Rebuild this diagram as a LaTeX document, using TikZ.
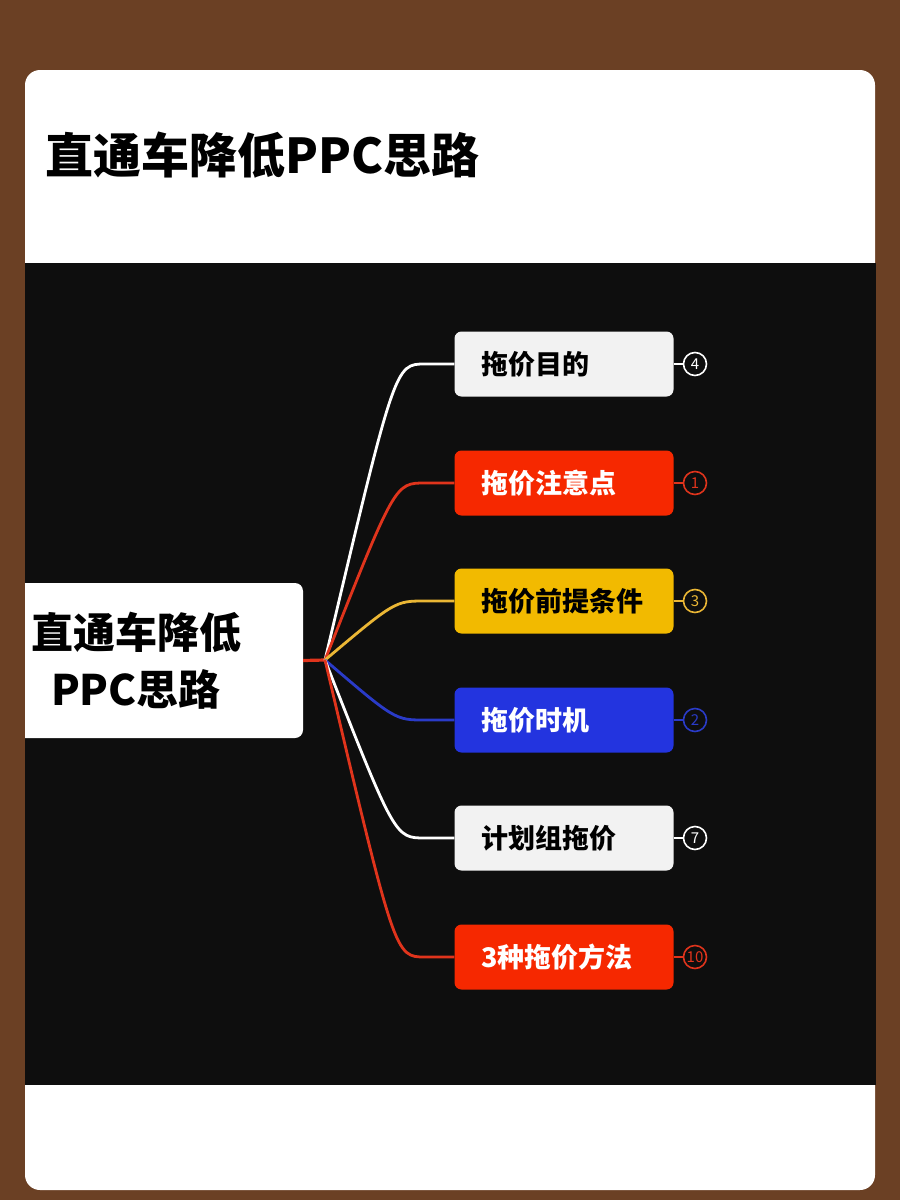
\documentclass[tikz,border=0pt]{standalone}
\usepackage{fontspec}
\newfontfamily\cjk{Noto Sans CJK SC}
\definecolor{brownbg}{HTML}{6B4024}
\definecolor{darkbg}{HTML}{0E0E0E}
\definecolor{boxwhite}{HTML}{F2F2F2}
\definecolor{boxred}{HTML}{F62800}
\definecolor{boxyellow}{HTML}{F2BA00}
\definecolor{boxblue}{HTML}{2334DF}
\definecolor{linered}{HTML}{E0341C}
\definecolor{lineyellow}{HTML}{EBB735}
\definecolor{lineblue}{HTML}{2A3BC8}
\tikzset{
  branch/.style={rectangle, rounded corners=7pt, minimum width=219pt, minimum height=65pt,
    inner xsep=27pt, inner ysep=0pt, text width=165pt, align=left,
    font=\cjk\bfseries\fontsize{27}{30}\selectfont},
  numc/.style={circle, line width=1.6pt, minimum size=23pt, inner sep=0pt,
    font=\cjk\fontsize{15}{16}\selectfont},
  conn/.style={line width=2.8pt},
}
\begin{document}
\begin{tikzpicture}[x=1pt,y=-1pt]
\useasboundingbox (0,0) rectangle (900,1200);
\fill[brownbg] (0,0) rectangle (900,1200);
\fill[white, rounded corners=15pt] (25,70) rectangle (875,1190);
\fill[darkbg] (25,263) rectangle (875.5,1085);
\node[anchor=west, inner sep=0pt, font=\cjk\bfseries\fontsize{48}{56}\selectfont] (title) at (45,155) {直通车降低PPC思路};
% root
\node[rectangle, fill=white, rounded corners=8pt, minimum width=293pt, minimum height=155pt, inner sep=0pt] (root) at (156.5,660.5) {};
\fill[brownbg] (0,570) rectangle (25,750);
\node[align=center, inner sep=0pt, font=\cjk\bfseries\fontsize{42}{57}\selectfont] (roottext) at (136,661) {直通车降低\\PPC思路};
\coordinate (hub) at (325,660);
% branches
\node[branch, fill=boxwhite, text=black] (b1) at (564,364) {拖价目的};
\node[branch, fill=boxred, text=white] (b2) at (564,483) {拖价注意点};
\node[branch, fill=boxyellow, text=black] (b3) at (564,601) {拖价前提条件};
\node[branch, fill=boxblue, text=white] (b4) at (564,720) {拖价时机};
\node[branch, fill=boxwhite, text=black] (b5) at (564,838) {计划组拖价};
\node[branch, fill=boxred, text=white] (b6) at (564,957) {3种拖价方法};
% connectors
\draw[conn, linered, line width=3.2pt] (root.east) -- (hub);
\draw[conn, white] (hub) .. controls (395,364) .. (425,364) -- (b1.west);
\draw[conn, linered] (hub) .. controls (395,483) .. (425,483) -- (b2.west);
\draw[conn, lineyellow] (hub) .. controls (395,601) .. (425,601) -- (b3.west);
\draw[conn, lineblue] (hub) .. controls (395,720) .. (425,720) -- (b4.west);
\draw[conn, white] (hub) .. controls (395,838) .. (425,838) -- (b5.west);
\draw[conn, linered] (hub) .. controls (395,957) .. (425,957) -- (b6.west);
% number circles
\node[numc, draw=white, text=white] (n1) at (695,364) {4};
\node[numc, draw=linered, text=linered] (n2) at (695,483) {1};
\node[numc, draw=lineyellow, text=lineyellow] (n3) at (695,601) {3};
\node[numc, draw=lineblue, text=lineblue] (n4) at (695,720) {2};
\node[numc, draw=white, text=white] (n5) at (695,838) {7};
\node[numc, draw=linered, text=linered] (n6) at (695,957) {10};
\draw[conn, white] (b1.east) -- (n1.west);
\draw[conn, linered] (b2.east) -- (n2.west);
\draw[conn, lineyellow] (b3.east) -- (n3.west);
\draw[conn, lineblue] (b4.east) -- (n4.west);
\draw[conn, white] (b5.east) -- (n5.west);
\draw[conn, linered] (b6.east) -- (n6.west);
\end{tikzpicture}
\end{document}
